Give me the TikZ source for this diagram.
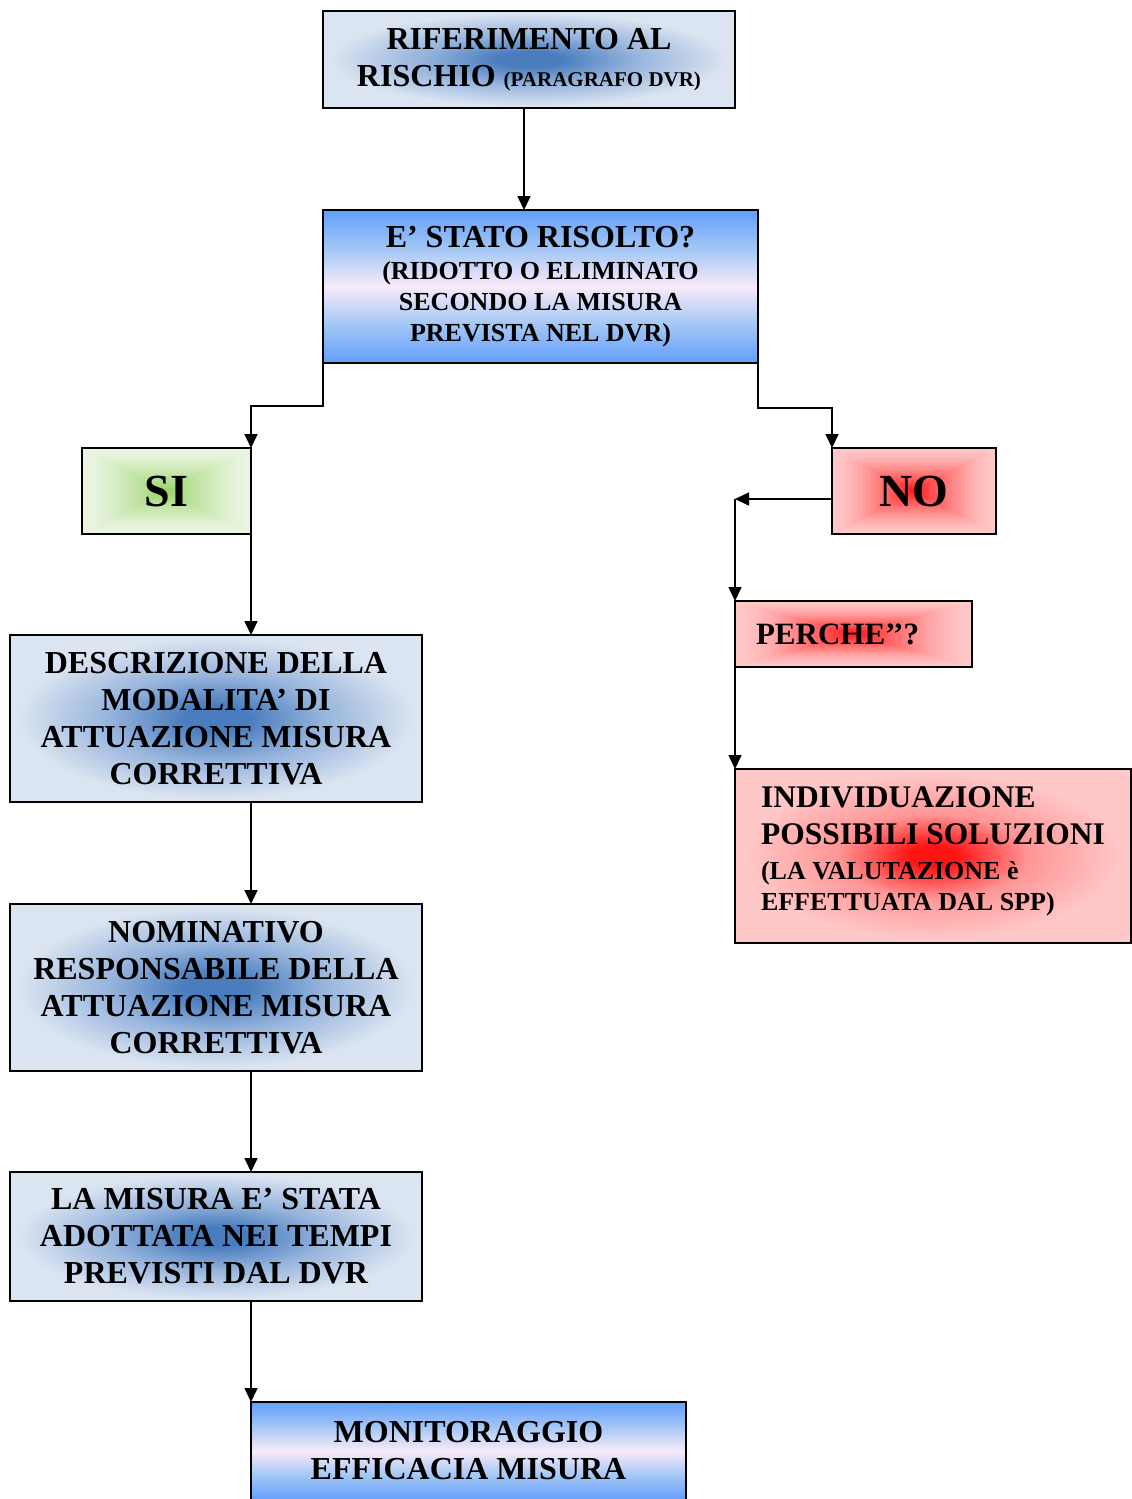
\documentclass[tikz,border=0pt]{standalone}
\usepackage{fontspec}
\setmainfont{Liberation Serif}
\usetikzlibrary{calc,arrows.meta}
\definecolor{bedge}{RGB}{219,228,241}
\definecolor{bmid}{RGB}{150,180,220}
\definecolor{bcent}{RGB}{74,125,190}
\definecolor{hblue}{RGB}{98,158,252}
\definecolor{hlight}{RGB}{165,200,245}
\definecolor{hpink}{RGB}{250,234,250}
\definecolor{gedge}{RGB}{235,245,226}
\definecolor{gcent}{RGB}{150,210,100}
\definecolor{redge}{RGB}{255,200,200}
\definecolor{rcent}{RGB}{255,20,20}
\definecolor{rmid}{RGB}{255,150,150}
\pgfdeclareradialshading{bluerad}{\pgfpoint{0bp}{0bp}}{color(0bp)=(bcent); color(4bp)=(bcent); color(13bp)=(bmid); color(24bp)=(bedge); color(50bp)=(bedge)}
\pgfdeclareradialshading{redrad}{\pgfpoint{0bp}{0bp}}{color(0bp)=(rcent); color(3bp)=(rcent); color(12bp)=(rmid); color(24bp)=(redge); color(50bp)=(redge)}
\pgfdeclareverticalshading{horizon}{100bp}{color(0bp)=(hblue); color(25bp)=(hblue); color(38bp)=(hlight); color(50bp)=(hpink); color(62bp)=(hlight); color(75bp)=(hblue); color(100bp)=(hblue)}
\newcommand{\smallline}{\fontsize{26}{31}\selectfont}
\tikzset{
  boxbase/.style={draw=black, line width=1.6pt, inner sep=0pt, outer sep=0pt, font=\bfseries\fontsize{32}{37}\selectfont, align=center},
  bluebox/.style={boxbase, shading=bluerad},
  skybox/.style={boxbase, shading=horizon},
  redradbox/.style={boxbase, shading=redrad},
  rectgrad/.style n args={2}{path picture={
    \foreach \i [evaluate=\i as \f using 1-\i/50, evaluate=\i as \p using int(100*(\i/50)^1.5)] in {0,...,50}{
      \fill[#1!\p!#2] ($(path picture bounding box.center)!\f!(path picture bounding box.south west)$) rectangle ($(path picture bounding box.center)!\f!(path picture bounding box.north east)$);
    }}},
  arr/.style={line width=1.6pt, -{Triangle[length=14pt,width=13pt]}},
  ln/.style={line width=1.6pt}
}
\begin{document}
\begin{tikzpicture}[x=1pt,y=-1pt]
\clip (0,0) rectangle (1132,1499);
\fill[white] (0,0) rectangle (1132,1499);

\node[bluebox, minimum width=412pt, minimum height=97pt] (r1) at (529,59.5)
  {RIFERIMENTO AL\\RISCHIO {\fontsize{21}{37}\selectfont (PARAGRAFO DVR)}};

\node[skybox, minimum width=435pt, minimum height=153pt] (q) at (540.5,286.5)
  {E’ STATO RISOLTO?\\[-5pt]{\smallline (RIDOTTO O ELIMINATO}\\[-6pt]{\smallline SECONDO LA MISURA}\\[-6pt]{\smallline PREVISTA NEL DVR)}};

\node[boxbase, rectgrad={gcent}{gedge}, minimum width=169pt, minimum height=86pt, font=\bfseries\fontsize{46}{50}\selectfont] (si) at (166.5,491) {SI};

\node[boxbase, rectgrad={rcent}{redge}, minimum width=164pt, minimum height=86pt, font=\bfseries\fontsize{46}{50}\selectfont] (no) at (914,491) {NO};

\node[boxbase, rectgrad={rcent}{redge}, minimum height=66pt, text width=195pt, inner xsep=21pt, align=left, font=\bfseries\fontsize{31}{36}\selectfont] (perche) at (853.5,634) {PERCHE’’?};

\node[redradbox, minimum width=396pt, minimum height=174pt, align=left, font=\bfseries\fontsize{31.5}{37}\selectfont] (indiv) at (933,856)
  {INDIVIDUAZIONE\\POSSIBILI SOLUZIONI\\[-2pt]{\smallline (LA VALUTAZIONE è}\\[-6pt]{\smallline EFFETTUATA DAL SPP)}\\[-22pt]};

\node[bluebox, minimum width=412pt, minimum height=167pt] (descr) at (216,718.5)
  {DESCRIZIONE DELLA\\MODALITA’ DI\\ATTUAZIONE MISURA\\CORRETTIVA};

\node[bluebox, minimum width=412pt, minimum height=167pt] (nomin) at (216,987.5)
  {NOMINATIVO\\RESPONSABILE DELLA\\ATTUAZIONE MISURA\\CORRETTIVA};

\node[bluebox, minimum width=412pt, minimum height=129pt] (misura) at (216,1236.5)
  {LA MISURA E’ STATA\\ADOTTATA NEI TEMPI\\PREVISTI DAL DVR};

\node[skybox, minimum width=435pt, minimum height=98pt] (monit) at (468.5,1451)
  {MONITORAGGIO\\EFFICACIA MISURA};

% connectors
\coordinate (c1) at (524,0);
\coordinate (c2) at (735,499);
\draw[arr] (r1.south -| c1) -- (q.north -| c1);
\draw[arr] (q.south west) -- ++(0,43) -| (si.north east);
\draw[arr] (q.south east) -- ++(0,45) -| (no.north west);
\draw[arr] (no.west |- c2) -- (c2);
\draw[arr] (c2) -- (perche.north west);
\draw[arr] (perche.south west) -- (indiv.north west);
\draw[arr] (si.south east) -- (descr.north -| si.east);
\draw[arr] (descr.south -| si.east) -- (nomin.north -| si.east);
\draw[arr] (nomin.south -| si.east) -- (misura.north -| si.east);
\draw[arr] (misura.south -| si.east) -- (monit.north west);
\end{tikzpicture}
\end{document}
